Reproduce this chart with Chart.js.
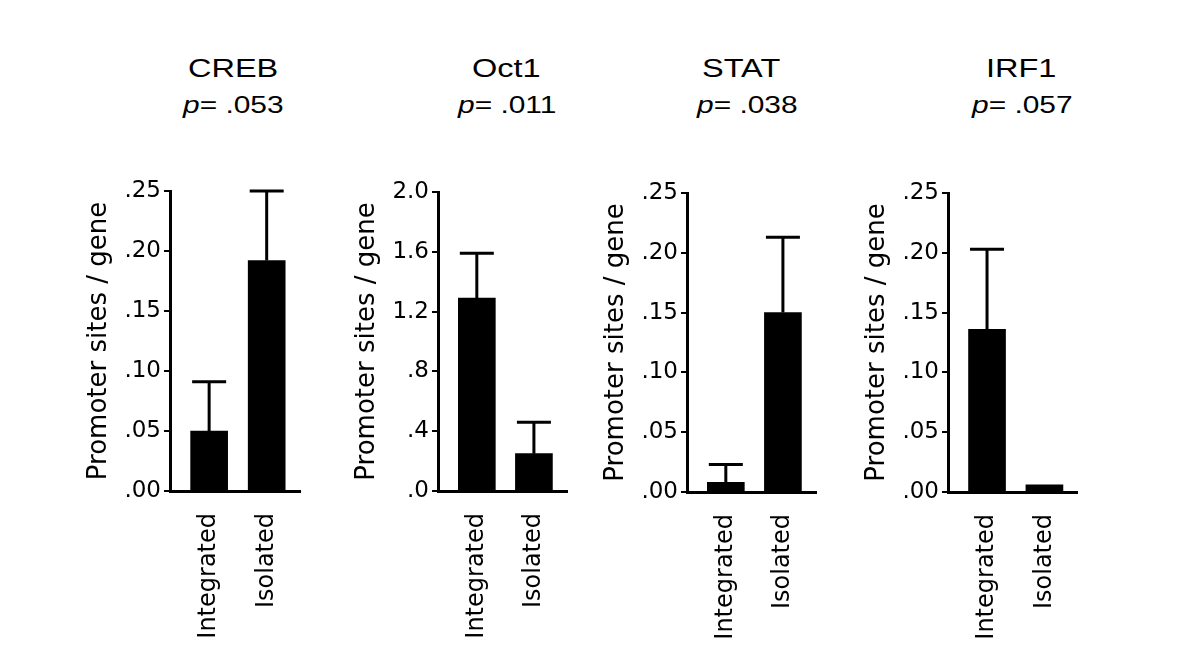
<!DOCTYPE html>
<html>
<head>
<meta charset="utf-8">
<script src="https://cdn.jsdelivr.net/npm/chart.js@4.4.0/dist/chart.umd.min.js"></script>
<style>
  body { margin: 0; background: #fff; width: 1200px; height: 671px; position: relative; overflow: hidden; font-family: "Liberation Sans", Arial, sans-serif; }
  .box { position: absolute; top: 150px; width: 250px; height: 520px; }
  .ttl { position: absolute; font-size: 26px; line-height: 1; color: #000; white-space: nowrap; transform-origin: left top; transform: scaleX(1.25); }
  .pv { font-size: 23px; transform: scaleX(1.3); }
</style>
</head>
<body>
<div class="box" id="b0"><canvas id="c0"></canvas></div>
<div class="box" id="b1"><canvas id="c1"></canvas></div>
<div class="box" id="b2"><canvas id="c2"></canvas></div>
<div class="box" id="b3"><canvas id="c3"></canvas></div>
<script>
const categories = ['Integrated', 'Isolated'];
const factors = ['CREB', 'Oct1', 'STAT', 'IRF1'];
const pValues = ['.053', '.011', '.038', '.057'];

const crebMeans = [0.05, 0.192];
const crebErrors = [0.041, 0.058];
const oct1Means = [1.29, 0.25];
const oct1Errors = [0.30, 0.21];
const statMeans = [0.008, 0.15];
const statErrors = [0.015, 0.063];
const irf1Means = [0.136, 0.006];
const irf1Errors = [0.067, 0];

const yMax = [0.25, 2.0, 0.25, 0.25];
const yStep = [0.05, 0.4, 0.05, 0.05];
const yDigits = [2, 1, 2, 2];

const panels = [
    { means: crebMeans, errors: crebErrors },
    { means: oct1Means, errors: oct1Errors },
    { means: statMeans, errors: statErrors },
    { means: irf1Means, errors: irf1Errors }
];

// page layout: y axis x position, x axis end, plot top / bottom
const axisX = [170, 438, 687, 948];
const axisEnd = [298, 563, 812, 1075];
const plotTop = [191, 192, 193, 193];
const plotBottom = [491, 491, 492, 492];
const titleLeft = [188, 472, 702, 986];
const pLeft = [183, 458, 697, 972];

const errorBars = {
    id: 'errorBars',
    afterDatasetsDraw(chart) {
        const ctx = chart.ctx;
        const yScale = chart.scales.y;
        const ds = chart.data.datasets[0];
        ctx.save();
        ctx.strokeStyle = '#000';
        ctx.lineWidth = 3;
        chart.getDatasetMeta(0).data.forEach(function (bar, i) {
            if (!ds.errors[i]) return;
            const top = yScale.getPixelForValue(ds.data[i].y + ds.errors[i]);
            ctx.beginPath();
            ctx.moveTo(bar.x, bar.y);
            ctx.lineTo(bar.x, top);
            ctx.moveTo(bar.x - 17, top);
            ctx.lineTo(bar.x + 17, top);
            ctx.stroke();
        });
        ctx.restore();
    }
};

function tickLabel(value, digits) {
    return value.toFixed(digits).replace(/^0/, '');
}

function BuildPanel(i) {
    const box = document.getElementById('b' + i);
    box.style.left = (axisX[i] - 110) + 'px';

    const t = document.createElement('div');
    t.className = 'ttl';
    t.style.left = titleLeft[i] + 'px';
    t.style.top = '55px';
    t.textContent = factors[i];
    document.body.appendChild(t);

    const p = document.createElement('div');
    p.className = 'ttl pv';
    p.style.left = pLeft[i] + 'px';
    p.style.top = '94px';
    p.innerHTML = '<i>p</i>= ' + pValues[i];
    document.body.appendChild(p);

    const panel = panels[i];
    new Chart(document.getElementById('c' + i), {
        type: 'bar',
        data: {
            datasets: [{
                data: panel.means.map(function (m, k) { return { x: k, y: m }; }),
                errors: panel.errors,
                backgroundColor: '#000',
                borderWidth: 0,
                barThickness: 37
            }]
        },
        options: {
            responsive: false,
            animation: false,
            events: [],
            layout: { padding: { left: 0, right: 250 - 110 - (axisEnd[i] - axisX[i]) - 10, top: plotTop[i] - 150, bottom: 0 } },
            plugins: { legend: { display: false }, tooltip: { enabled: false } },
            scales: {
                x: {
                    type: 'linear',
                    min: -0.68,
                    max: 1.58,
                    offset: false,
                    grid: { display: false, offset: false },
                    border: { display: true, color: '#000', width: 3 },
                    afterBuildTicks: function (s) { s.ticks = [{ value: 0 }, { value: 1 }]; },
                    afterFit: function (s) { s.height = 520 - (plotBottom[i] - 150); },
                    ticks: {
                        autoSkip: false,
                        minRotation: 90,
                        maxRotation: 90,
                        padding: 14,
                        color: '#000',
                        font: { family: 'DejaVu Sans', size: 24 },
                        callback: function (v) { return categories[v]; }
                    }
                },
                y: {
                    min: 0,
                    max: yMax[i],
                    grid: { display: true, drawOnChartArea: false, drawTicks: true, tickLength: 6, color: '#000', lineWidth: 2 },
                    border: { display: true, color: '#000', width: 3 },
                    afterFit: function (s) { s.width = 110; },
                    ticks: {
                        stepSize: yStep[i],
                        padding: 3,
                        color: '#000',
                        font: { family: 'DejaVu Sans', size: 23 },
                        callback: function (v) { return tickLabel(v, yDigits[i]); }
                    },
                    title: {
                        display: true,
                        text: 'Promoter sites / gene',
                        color: '#000',
                        font: { family: 'DejaVu Sans', size: 26 },
                        padding: { top: 24, bottom: 0 }
                    }
                }
            }
        },
        plugins: [errorBars]
    });
}

for (let i = 0; i < 4; i++) {
    document.getElementById('c' + i).width = 250;
    document.getElementById('c' + i).height = 520;
    BuildPanel(i);
}
</script>
</body>
</html>
